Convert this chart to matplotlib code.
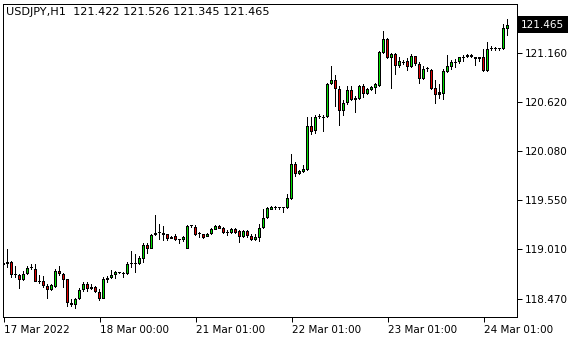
import matplotlib
matplotlib.use("Agg")
import matplotlib.pyplot as plt
from matplotlib.transforms import blended_transform_factory

symbol = "USDJPY,H1"

opens = [
    118.842, 118.853, 118.875, 118.732, 118.732, 118.678, 118.743, 118.809, 118.798, 118.667,
    118.667, 118.612, 118.569, 118.601, 118.776, 118.743, 118.689, 118.426, 118.404, 118.470,
    118.569, 118.634, 118.579, 118.601, 118.547, 118.470, 118.678, 118.700, 118.732, 118.754,
    118.754, 118.743, 118.853, 118.853, 118.853, 118.908, 119.060, 119.017, 119.170, 119.192,
    119.192, 119.181, 119.126, 119.159, 119.115, 119.115, 119.017, 119.268, 119.257, 119.181,
    119.181, 119.148, 119.181, 119.224, 119.268, 119.246, 119.192, 119.192, 119.235, 119.214,
    119.148, 119.214, 119.159, 119.115, 119.137, 119.246, 119.356, 119.443, 119.465, 119.465,
    119.465, 119.465, 119.564, 119.936, 119.837, 119.859, 119.881, 120.362, 120.307, 120.450,
    120.450, 120.450, 120.821, 120.865, 120.766, 120.526, 120.603, 120.745, 120.646, 120.657,
    120.799, 120.712, 120.745, 120.777, 120.799, 121.160, 121.313, 121.095, 121.149, 121.018,
    121.051, 121.062, 121.007, 121.127, 121.040, 120.876, 120.985, 120.974, 120.777, 120.701,
    120.712, 120.942, 121.007, 121.051, 121.051, 121.106, 121.106, 121.138, 121.106, 121.106,
    121.106, 120.953, 121.204, 121.204, 121.204, 121.204, 121.422,
]
highs = [
    118.886, 119.017, 118.886, 118.831, 118.743, 118.776, 118.831, 118.853, 118.853, 118.732,
    118.721, 118.634, 118.634, 118.798, 118.831, 118.754, 118.689, 118.470, 118.481, 118.590,
    118.656, 118.656, 118.634, 118.612, 118.579, 118.710, 118.721, 118.787, 118.770, 118.765,
    118.765, 118.875, 118.995, 118.962, 118.940, 119.082, 119.082, 119.181, 119.389, 119.290,
    119.268, 119.181, 119.159, 119.181, 119.126, 119.159, 119.279, 119.279, 119.279, 119.203,
    119.181, 119.192, 119.240, 119.279, 119.279, 119.257, 119.224, 119.240, 119.240, 119.224,
    119.224, 119.224, 119.181, 119.181, 119.290, 119.454, 119.476, 119.487, 119.487, 119.476,
    119.476, 119.618, 120.056, 119.968, 119.881, 119.925, 120.450, 120.450, 120.472, 120.483,
    120.472, 120.832, 121.018, 120.909, 120.799, 120.636, 120.799, 120.799, 120.690, 120.810,
    120.821, 120.777, 120.799, 120.832, 121.182, 121.390, 121.324, 121.160, 121.160, 121.106,
    121.073, 121.095, 121.149, 121.127, 121.051, 121.018, 121.007, 120.985, 120.865, 120.821,
    120.975, 121.138, 121.073, 121.084, 121.116, 121.138, 121.149, 121.149, 121.116, 121.116,
    121.204, 121.280, 121.236, 121.225, 121.214, 121.467, 121.526,
]
lows = [
    118.765, 118.809, 118.700, 118.700, 118.579, 118.667, 118.732, 118.787, 118.656, 118.634,
    118.590, 118.470, 118.558, 118.590, 118.721, 118.590, 118.383, 118.383, 118.361, 118.459,
    118.547, 118.547, 118.569, 118.536, 118.448, 118.470, 118.645, 118.689, 118.689, 118.743,
    118.700, 118.732, 118.809, 118.754, 118.842, 118.864, 118.962, 119.017, 119.159, 119.115,
    119.104, 119.104, 119.126, 119.104, 119.071, 119.093, 119.017, 119.246, 119.159, 119.137,
    119.126, 119.148, 119.170, 119.224, 119.235, 119.181, 119.159, 119.181, 119.181, 119.082,
    119.137, 119.137, 119.104, 119.104, 119.093, 119.235, 119.345, 119.443, 119.443, 119.443,
    119.410, 119.454, 119.553, 119.804, 119.826, 119.848, 119.870, 120.253, 120.274, 120.428,
    120.296, 120.439, 120.810, 120.559, 120.362, 120.471, 120.581, 120.625, 120.504, 120.646,
    120.668, 120.701, 120.734, 120.712, 120.788, 121.149, 121.084, 120.766, 120.909, 120.996,
    121.029, 120.953, 120.996, 121.018, 120.821, 120.865, 120.942, 120.755, 120.592, 120.657,
    120.646, 120.931, 120.964, 120.996, 121.040, 121.051, 121.095, 121.095, 121.018, 121.051,
    120.942, 120.942, 121.182, 121.182, 121.182, 121.193, 121.345,
]
closes = [
    118.864, 118.875, 118.732, 118.735, 118.678, 118.743, 118.809, 118.812, 118.656, 118.656,
    118.612, 118.569, 118.623, 118.776, 118.743, 118.678, 118.426, 118.404, 118.470, 118.569,
    118.634, 118.579, 118.601, 118.547, 118.470, 118.689, 118.700, 118.732, 118.765, 118.757,
    118.743, 118.853, 118.856, 118.850, 118.918, 119.060, 119.017, 119.170, 119.192, 119.189,
    119.170, 119.126, 119.148, 119.115, 119.112, 119.148, 119.268, 119.265, 119.170, 119.178,
    119.137, 119.181, 119.235, 119.268, 119.235, 119.192, 119.189, 119.235, 119.192, 119.148,
    119.214, 119.159, 119.115, 119.148, 119.246, 119.356, 119.465, 119.476, 119.468, 119.462,
    119.468, 119.575, 119.936, 119.837, 119.870, 119.892, 120.362, 120.296, 120.450, 120.461,
    120.447, 120.821, 120.865, 120.766, 120.526, 120.603, 120.745, 120.646, 120.668, 120.799,
    120.712, 120.766, 120.788, 120.821, 121.171, 121.313, 121.095, 121.149, 121.018, 121.062,
    121.054, 121.007, 121.127, 121.040, 120.876, 120.985, 120.982, 120.766, 120.701, 120.723,
    120.953, 121.018, 121.051, 121.054, 121.106, 121.116, 121.138, 121.106, 121.084, 121.084,
    120.953, 121.204, 121.207, 121.201, 121.207, 121.423, 121.465,
]

xtick_pos = [0, 24, 48, 72, 96, 120]
xtick_labels = ["17 Mar 2022", "18 Mar 00:00", "21 Mar 01:00",
                "22 Mar 01:00", "23 Mar 01:00", "24 Mar 01:00"]
ytick_vals = [118.470, 119.010, 119.550, 120.080, 120.620, 121.160]

UP = "#00e000"
DOWN = "#e00000"

W, H = 580, 340
AX_L, AX_R, AX_T, AX_B = 2.5, 516.5, 3.5, 316.5
YMIN, YMAX = 118.274, 121.696

plt.rcParams["font.family"] = ["DejaVu Sans"]
fig = plt.figure(figsize=(W / 100, H / 100), dpi=100)
fig.patch.set_facecolor("white")
ax = fig.add_axes([AX_L / W, 1 - AX_B / H, (AX_R - AX_L) / W, (AX_B - AX_T) / H])

px_x = 128.5 / (AX_R - AX_L)
px_y = (YMAX - YMIN) / (AX_B - AX_T)

n = len(opens)
xs = list(range(n))
# wicks as 1-px bars so they snap exactly like the bodies
ax.bar(xs, [h - l for h, l in zip(highs, lows)], bottom=lows, width=px_x,
       color="black", linewidth=0, zorder=2)

bottoms = [min(o, c) for o, c in zip(opens, closes)]
spans = [abs(c - o) for o, c in zip(opens, closes)]
outer_h = [max(s, px_y) for s in spans]
outer_b = [b if s >= px_y else (o + c) / 2 - px_y / 2
           for b, s, o, c in zip(bottoms, spans, opens, closes)]
ax.bar(xs, outer_h, bottom=outer_b, width=3 * px_x, color="black",
       linewidth=0, zorder=3)

cols = [UP if c >= o else DOWN for o, c in zip(opens, closes)]
in_x = [x for x, s in zip(xs, spans) if s > 2.2 * px_y]
in_b = [b + px_y for b, s in zip(bottoms, spans) if s > 2.2 * px_y]
in_h = [s - 2 * px_y for s in spans if s > 2.2 * px_y]
in_c = [cl for cl, s in zip(cols, spans) if s > 2.2 * px_y]
ax.bar(in_x, in_h, bottom=in_b, width=1 * px_x, color=in_c, linewidth=0, zorder=4)

ax.set_xlim(-1.0 * px_x, 128.5 - 1.0 * px_x)
ax.set_ylim(YMIN, YMAX)

ax.yaxis.tick_right()
ax.set_yticks(ytick_vals)
ax.set_yticklabels([f"{v:.3f}" for v in ytick_vals])
ax.set_xticks(xtick_pos)
ax.set_xticklabels(xtick_labels)
for lab in ax.get_xticklabels():
    lab.set_horizontalalignment("left")
ax.tick_params(axis="y", direction="out", length=3.5, width=0.72, pad=2.5,
               labelsize=7.5, colors="black")
ax.tick_params(axis="x", direction="out", length=3.5, width=0.72, pad=2.5,
               labelsize=7.5, colors="black")
for sp in ax.spines.values():
    sp.set_linewidth(0.72)
    sp.set_color("black")

ax.text(0.007, 0.972,
        f"{symbol}  {opens[-1]:.3f} {highs[-1]:.3f} {lows[-1]:.3f} {closes[-1]:.3f}",
        transform=ax.transAxes, ha="left", va="center", fontsize=8.1, color="black")

trans = blended_transform_factory(ax.transAxes, ax.transData)
ax.text(1.0 + 4.5 / (AX_R - AX_L), closes[-1], f"{closes[-1]:.3f}", transform=trans,
        ha="left", va="center", fontsize=7.5, color="white",
        bbox=dict(facecolor="black", edgecolor="none", boxstyle="square,pad=0.35"))

fig.savefig("out.png", dpi=100, facecolor="white")
